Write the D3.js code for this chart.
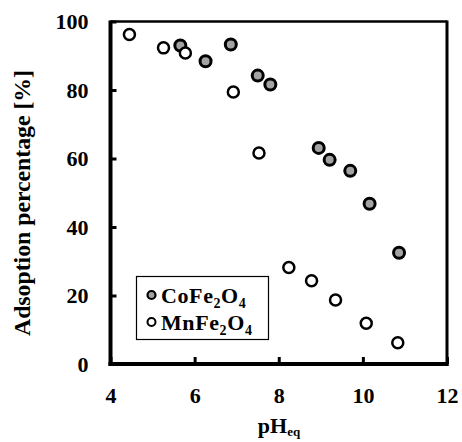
<!DOCTYPE html>
<html>
<head>
<meta charset="utf-8">
<script src="https://cdn.jsdelivr.net/npm/d3@7"></script>
<style>
  body { margin: 0; background: #fff; }
  text { font-family: "Liberation Serif", "Times New Roman", serif; font-weight: bold; fill: #000; }
</style>
</head>
<body>
<div id="chart"></div>
<script>
// CoFe2O4 (gray filled) and MnFe2O4 (open) adsorption vs equilibrium pH
const coPh = [5.66, 6.26, 6.86, 7.50, 7.80, 8.95, 9.21, 9.70, 10.16, 10.86];
const coAds = [93.0, 88.4, 93.3, 84.2, 81.6, 63.1, 59.6, 56.4, 46.8, 32.5];
const mnPh = [4.45, 5.26, 5.78, 6.92, 7.53, 8.24, 8.78, 9.35, 10.08, 10.83];
const mnAds = [96.2, 92.3, 90.8, 79.4, 61.6, 28.2, 24.3, 18.7, 11.9, 6.2];
const xTicks = [4, 6, 8, 10, 12];
const yTicks = [0, 20, 40, 60, 80, 100];

const width = 462, height = 442;
const x = d3.scaleLinear().domain([4, 12]).range([110.5, 447]);
const y = d3.scaleLinear().domain([0, 100]).range([364, 21.5]);

const svg = d3.select('#chart').append('svg')
  .attr('width', width)
  .attr('height', height);

// axes: inward ticks, labels outside
const yAxis = svg.append('g')
  .attr('transform', `translate(${x(4)},0)`)
  .call(d3.axisLeft(y).tickValues(yTicks).tickSize(-6).tickPadding(22).tickFormat(d3.format('d')));
const xAxis = svg.append('g')
  .attr('transform', `translate(0,${y(0)})`)
  .call(d3.axisBottom(x).tickValues(xTicks).tickSize(-7).tickPadding(23).tickFormat(d3.format('d')));

[yAxis, xAxis].forEach(g => {
  g.select('.domain').remove();
  g.selectAll('line').attr('stroke', '#000').attr('stroke-width', 3);
  g.selectAll('text')
    .style('font-family', '"Liberation Serif", "Times New Roman", serif')
    .style('font-weight', 'bold')
    .style('font-size', '22px')
    .attr('fill', '#000');
});

// frame
const frame = svg.append('g').attr('stroke', '#000').attr('fill', 'none');
frame.append('line').attr('x1', x(4)).attr('x2', x(12)).attr('y1', y(100)).attr('y2', y(100)).attr('stroke-width', 2.5);
frame.append('line').attr('x1', x(12)).attr('x2', x(12)).attr('y1', y(100) - 1).attr('y2', y(0) + 2).attr('stroke-width', 3);
frame.append('line').attr('x1', x(4)).attr('x2', x(4)).attr('y1', y(100) - 1).attr('y2', y(0) + 2).attr('stroke-width', 4);
frame.append('line').attr('x1', x(4) - 2).attr('x2', x(12) + 1.5).attr('y1', y(0)).attr('y2', y(0)).attr('stroke-width', 4);

// points
const co = coPh.map((p, i) => ({ p, a: coAds[i] }));
const mn = mnPh.map((p, i) => ({ p, a: mnAds[i] }));

svg.append('g').selectAll('circle')
  .data(co)
  .join('circle')
  .attr('cx', d => x(d.p))
  .attr('cy', d => y(d.a))
  .attr('r', 5.5)
  .attr('fill', '#a3a3a3')
  .attr('stroke', '#000')
  .attr('stroke-width', 3);

svg.append('g').selectAll('circle')
  .data(mn)
  .join('circle')
  .attr('cx', d => x(d.p))
  .attr('cy', d => y(d.a))
  .attr('r', 5.5)
  .attr('fill', '#fff')
  .attr('stroke', '#000')
  .attr('stroke-width', 2.5);

// legend
const legend = svg.append('g');
legend.append('rect')
  .attr('x', 136.5).attr('y', 276.5)
  .attr('width', 132).attr('height', 63)
  .attr('fill', '#fff').attr('stroke', '#000').attr('stroke-width', 1.2);

const legendItems = [
  { base: 'CoFe', fill: '#a3a3a3', sw: 2.2 },
  { base: 'MnFe', fill: '#fff', sw: 2 }
];
legendItems.forEach((it, i) => {
  const cy = 295 + i * 27;
  legend.append('circle')
    .attr('cx', 151.5).attr('cy', cy).attr('r', 4)
    .attr('fill', it.fill).attr('stroke', '#000').attr('stroke-width', it.sw);
  const t = legend.append('text')
    .attr('x', 161).attr('y', cy + 7.5)
    .style('font-size', '22px')
    .style('letter-spacing', '0.6px');
  t.append('tspan').text(it.base);
  t.append('tspan').attr('dy', 5).style('font-size', '14px').text('2');
  t.append('tspan').attr('dy', -5).text('O');
  t.append('tspan').attr('dy', 5).style('font-size', '14px').text('4');
});

// axis titles
svg.append('text')
  .attr('transform', 'translate(30,203) rotate(-90)')
  .attr('text-anchor', 'middle')
  .attr('textLength', 266)
  .attr('lengthAdjust', 'spacingAndGlyphs')
  .style('font-size', '24px')
  .text('Adsoption  percentage  [%]');

const xt = svg.append('text')
  .attr('x', 279).attr('y', 433)
  .attr('text-anchor', 'middle')
  .style('font-size', '22px');
xt.append('tspan').text('pH');
xt.append('tspan').attr('dy', 3).style('font-size', '13px').text('eq');
</script>
</body>
</html>
